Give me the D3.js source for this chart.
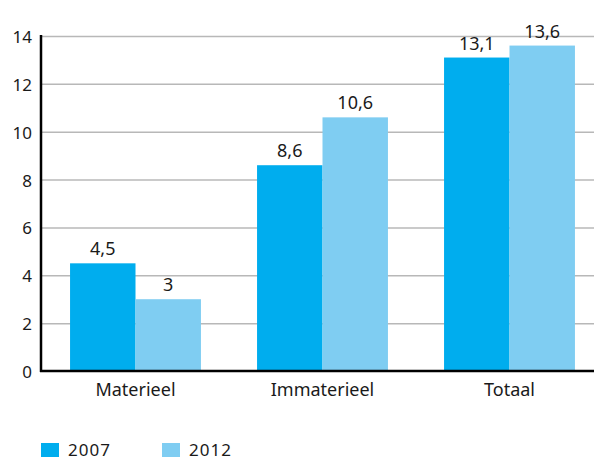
<!DOCTYPE html>
<html>
<head>
<meta charset="utf-8">
<script src="https://cdn.jsdelivr.net/npm/d3@7"></script>
<style>
body { margin: 0; background: #fff; }
svg text { font-family: "Noto Sans", "Open Sans", sans-serif; fill: #1a1a1a; }
.grid line { stroke: #b8b8b8; stroke-width: 1.5; }
.grid .domain { display: none; }
</style>
</head>
<body>
<svg id="chart" width="594" height="461"></svg>
<script>
var categories = ["Materieel", "Immaterieel", "Totaal"];
var seriesNames = ["2007", "2012"];
var values2007 = [4.5, 8.6, 13.1];
var values2012 = [3, 10.6, 13.6];
var yTicks = [0, 2, 4, 6, 8, 10, 12, 14];
var colors = ["#00adee", "#7fcdf2"];

function drawChart() {
    var svg = d3.select("#chart");
    var left = 41, right = 594, top = 36, bottom = 371;

    var y = d3.scaleLinear().domain([0, 14]).range([bottom, top]);
    var x = d3.scaleBand().domain(categories).range([42, 603])
        .paddingInner(0.3).paddingOuter(0.15);
    var xs = d3.scaleBand().domain(seriesNames).range([0, x.bandwidth()]);

    var data = categories.map(function(c, i) {
        return { cat: c, vals: [values2007[i], values2012[i]] };
    });

    // gridlines
    svg.append("g")
        .attr("class", "grid")
        .attr("transform", "translate(" + left + ",0)")
        .call(d3.axisRight(y).tickValues(yTicks.slice(1)).tickSize(right - left).tickFormat(""));

    // bars
    var groups = svg.selectAll(".cat")
        .data(data)
        .enter().append("g")
        .attr("class", "cat")
        .attr("transform", function(d) { return "translate(" + x(d.cat) + ",0)"; });

    groups.selectAll("rect")
        .data(function(d) { return d.vals; })
        .enter().append("rect")
        .attr("x", function(d, i) { return xs(seriesNames[i]); })
        .attr("width", xs.bandwidth())
        .attr("y", function(d) { return y(d); })
        .attr("height", function(d) { return y(0) - y(d); })
        .attr("fill", function(d, i) { return colors[i]; });

    groups.selectAll(".val")
        .data(function(d) { return d.vals; })
        .enter().append("text")
        .attr("class", "val")
        .attr("x", function(d, i) { return xs(seriesNames[i]) + xs.bandwidth() / 2; })
        .attr("y", function(d) { return y(d) - 8; })
        .attr("text-anchor", "middle")
        .style("font-size", "18px")
        .text(function(d) { return String(d).replace(".", ","); });

    // y axis labels
    svg.selectAll(".ytick")
        .data(yTicks)
        .enter().append("text")
        .attr("class", "ytick")
        .attr("x", 32)
        .attr("y", function(d) { return y(d) + 7; })
        .attr("text-anchor", "end")
        .style("font-size", "17px")
        .text(function(d) { return d; });

    // axis lines
    svg.append("line")
        .attr("x1", left).attr("x2", left)
        .attr("y1", y(14) - 1).attr("y2", y(0) + 1)
        .attr("stroke", "#000").attr("stroke-width", 2.5);
    svg.append("line")
        .attr("x1", left - 1).attr("x2", right)
        .attr("y1", y(0)).attr("y2", y(0))
        .attr("stroke", "#000").attr("stroke-width", 2.5);

    // x labels
    svg.selectAll(".xlab")
        .data(categories)
        .enter().append("text")
        .attr("class", "xlab")
        .attr("x", function(d) { return x(d) + x.bandwidth() / 2; })
        .attr("y", 396)
        .attr("text-anchor", "middle")
        .style("font-size", "18px")
        .text(function(d) { return d; });

    // legend
    var legend = svg.selectAll(".legend")
        .data(seriesNames)
        .enter().append("g")
        .attr("class", "legend")
        .attr("transform", function(d, i) { return "translate(" + (41 + i * 121) + ",443)"; });
    legend.append("rect")
        .attr("width", 18).attr("height", 14)
        .attr("fill", function(d, i) { return colors[i]; });
    legend.append("text")
        .attr("x", 27).attr("y", 13)
        .style("font-size", "17px")
        .style("letter-spacing", "1px")
        .text(function(d) { return d; });
}

drawChart();
</script>
</body>
</html>
